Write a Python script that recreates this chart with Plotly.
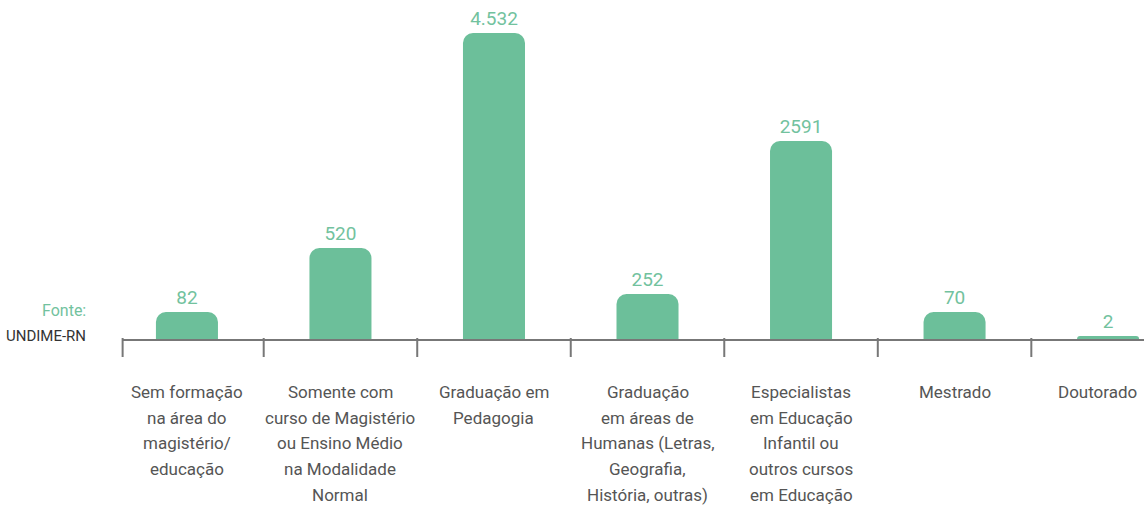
import plotly.graph_objects as go

categories = [
    "Sem formação<br>na área do<br>magistério/<br>educação",
    "Somente com<br>curso de Magistério<br>ou Ensino Médio<br>na Modalidade<br>Normal",
    "Graduação em<br>Pedagogia",
    "Graduação<br>em áreas de<br>Humanas (Letras,<br>Geografia,<br>História, outras)",
    "Especialistas<br>em Educação<br>Infantil ou<br>outros cursos<br>em Educação",
    "Mestrado",
    "Doutorado",
]
value_labels = ["82", "520", "4.532", "252", "2591", "70", "2"]
# bar heights as drawn in the infographic (not proportional to the values)
drawn_heights = [27, 91, 306, 45, 198, 27, 3]

GREEN = "#6CBF9A"
TEXT_GREEN = "#72C29E"
AXIS = "#777777"
FONT = "Roboto, sans-serif"

x_pos = list(range(len(categories)))
X0, X1 = -0.423, 6.234

fig = go.Figure(
    go.Bar(
        x=x_pos,
        y=drawn_heights,
        text=value_labels,
        textposition="outside",
        textfont=dict(family=FONT, size=19, color=TEXT_GREEN),
        marker=dict(color=GREEN, cornerradius=10, line=dict(width=0)),
        width=0.404,
        cliponaxis=False,
        hoverinfo="skip",
    )
)

fig.update_layout(
    width=1144,
    height=508,
    margin=dict(l=122, r=0, t=0, b=169),
    paper_bgcolor="white",
    plot_bgcolor="white",
    showlegend=False,
    font=dict(family=FONT, color="#555555"),
    xaxis=dict(
        type="linear",
        range=[X0, X1],
        showticklabels=False,
        ticks="",
        showgrid=False,
        zeroline=False,
        showline=True,
        linecolor=AXIS,
        linewidth=2,
    ),
    yaxis=dict(
        range=[0, 339],
        visible=False,
        showgrid=False,
        zeroline=False,
    ),
)

# boundary tick marks (axis start and between categories)
bounds = [X0 + 0.004] + [i + 0.5 for i in range(len(categories) - 1)]
plot_h = 508 - 169
for b in bounds:
    fig.add_shape(
        type="line", xref="paper", yref="paper",
        x0=(b - X0) / (X1 - X0), x1=(b - X0) / (X1 - X0),
        y0=1 / plot_h, y1=-18 / plot_h,
        line=dict(color=AXIS, width=2),
    )

# category labels, one line at a time for the reference's line spacing
LINE_GAP = 25.7
FIRST_LINE = 53
for xi, cat in zip(x_pos, categories):
    last = xi == x_pos[-1]
    for k, line in enumerate(cat.split("<br>")):
        fig.add_annotation(
            text=line,
            xref="paper" if last else "x", yref="y",
            x=1 if last else xi, y=0,
            xanchor="right" if last else "center", yanchor="middle",
            xshift=-5 if last else 0,
            yshift=-(FIRST_LINE + k * LINE_GAP),
            showarrow=False,
            font=dict(family=FONT, size=17, color="#555555"),
        )

fig.add_annotation(
    text="Fonte:", xref="paper", yref="y", x=-34 / 1022, y=29,
    xanchor="right", yanchor="middle", showarrow=False,
    font=dict(family=FONT, size=16, color=TEXT_GREEN),
)
fig.add_annotation(
    text="UNDIME-RN", xref="paper", yref="y", x=-34 / 1022, y=3,
    xanchor="right", yanchor="middle", showarrow=False,
    font=dict(family=FONT, size=15, color="#333333"),
)

fig.write_html(
    "out.html",
    config={"displayModeBar": False},
    post_script="document.body.style.margin='0';",
)
